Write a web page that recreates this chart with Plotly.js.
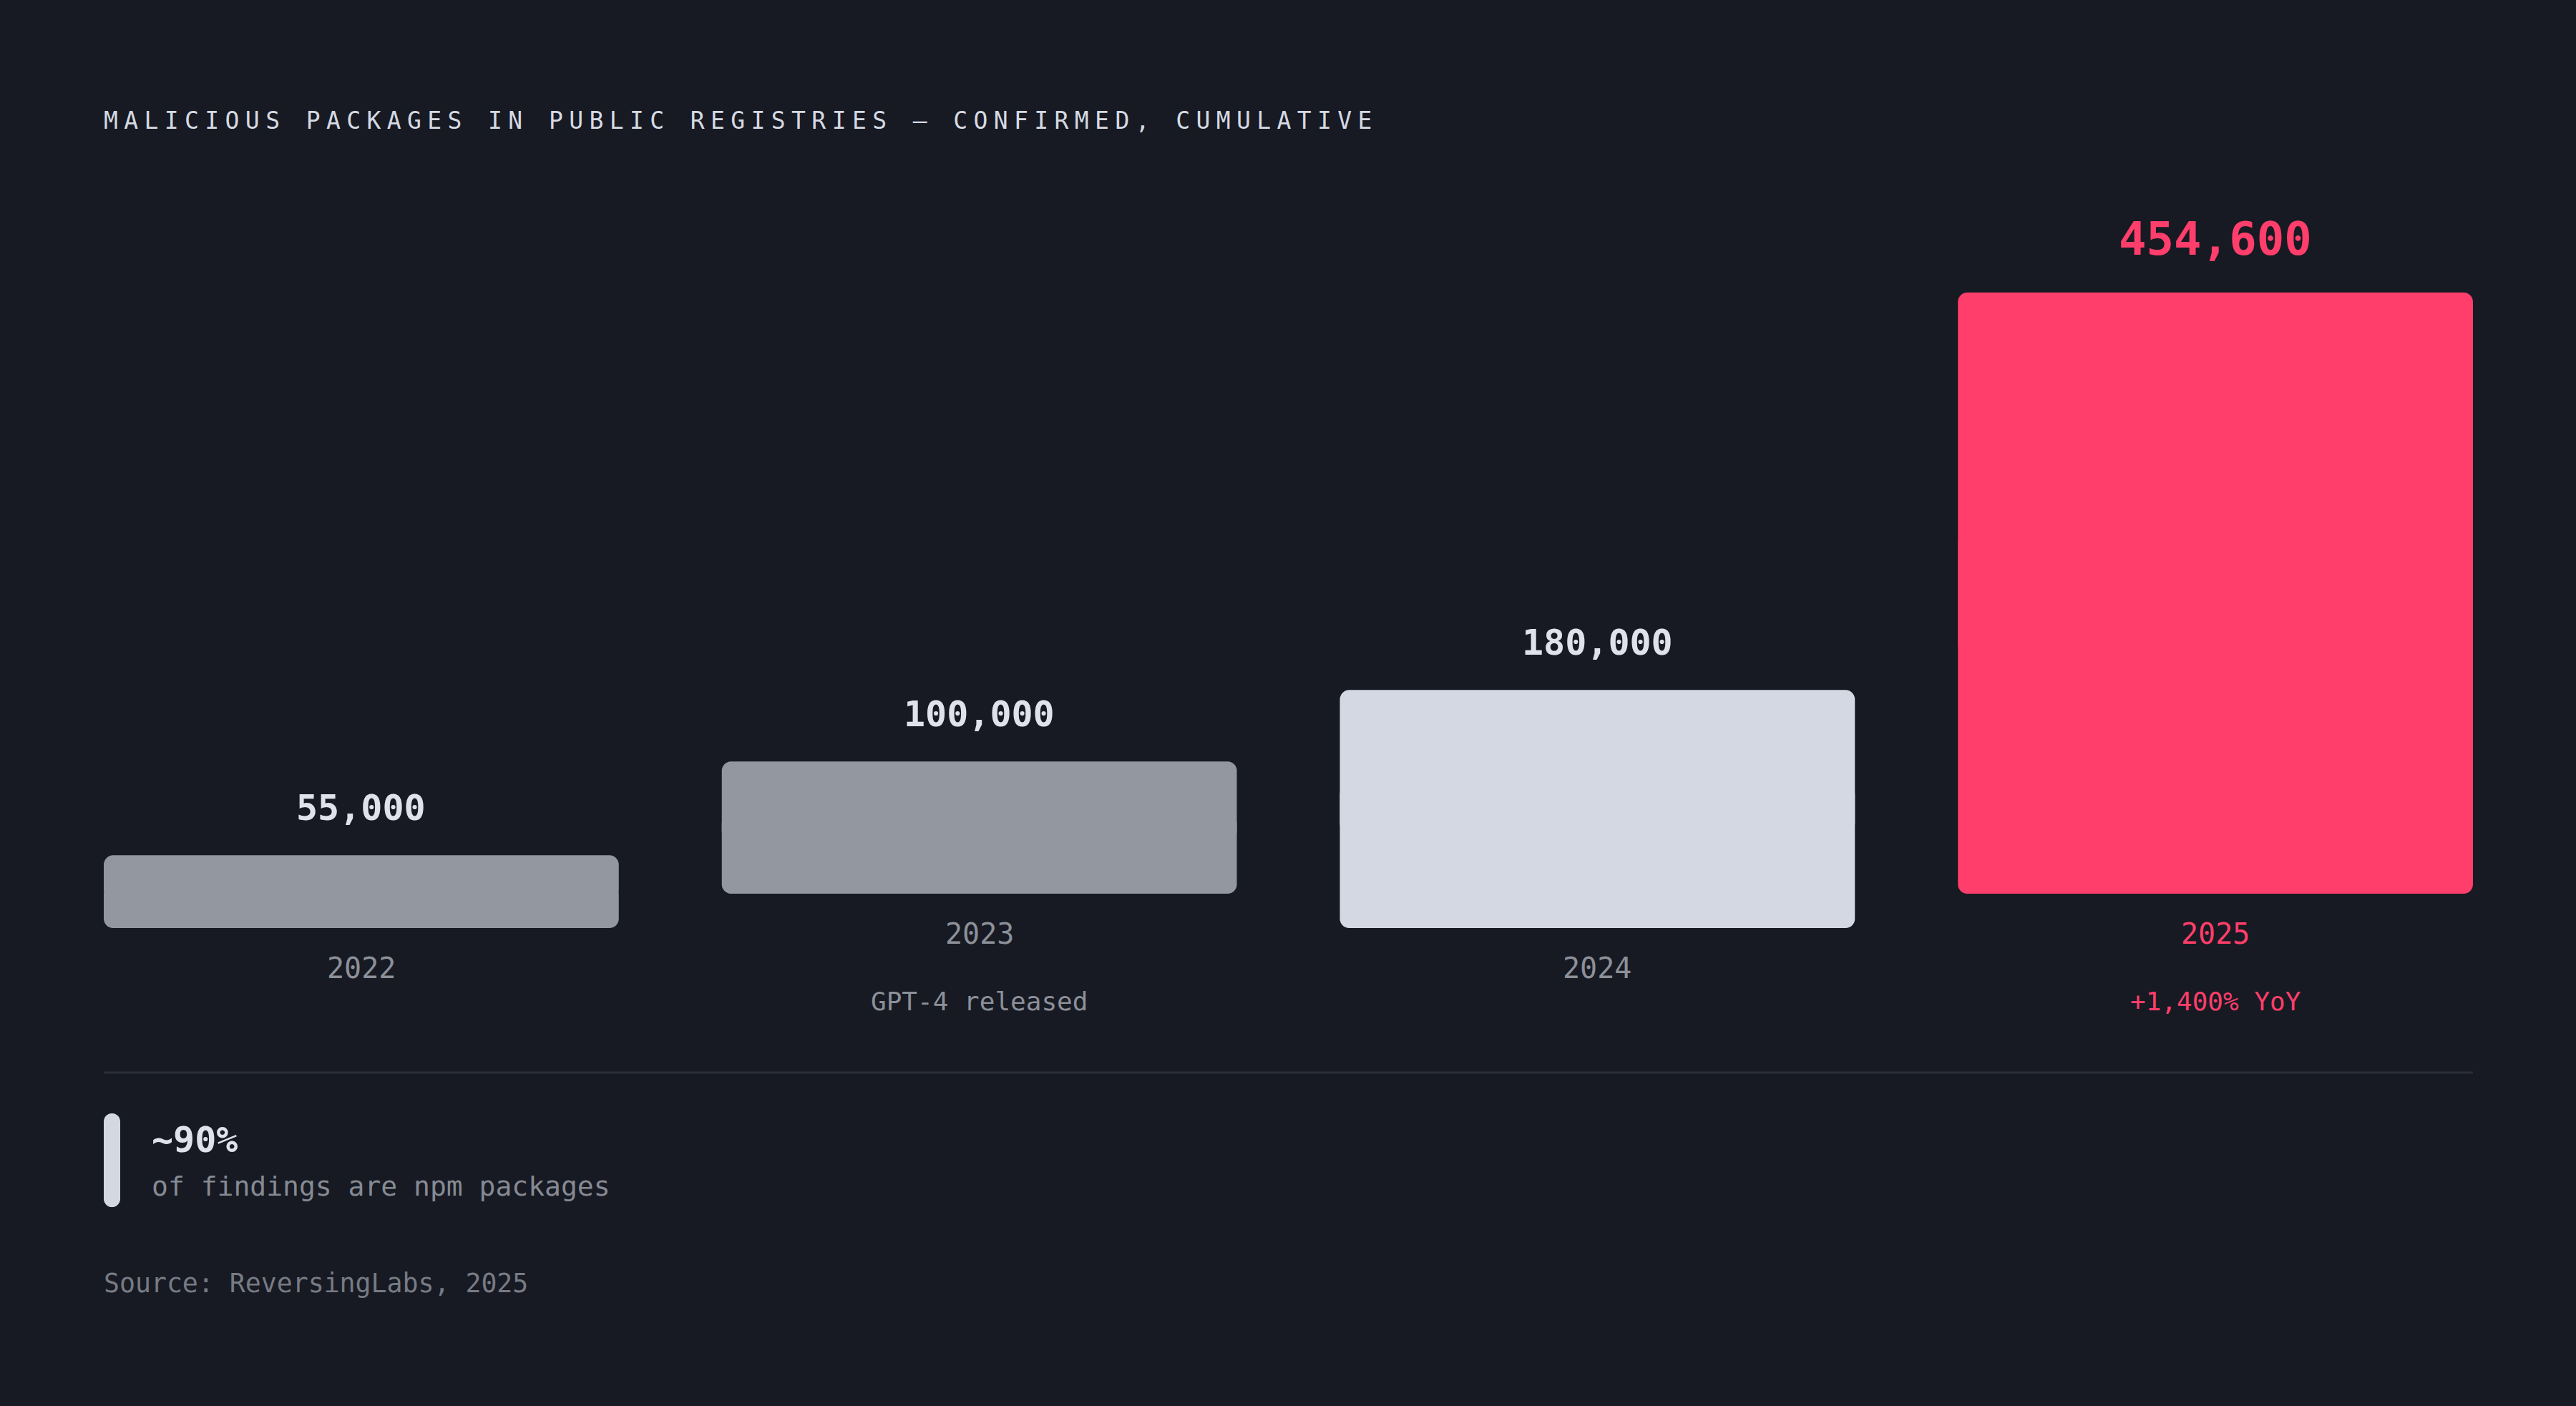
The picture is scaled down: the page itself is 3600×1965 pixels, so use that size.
<!DOCTYPE html>
<html>
<head>
<meta charset="utf-8">
<script src="https://cdn.plot.ly/plotly-3.0.1.min.js"></script>
<style>
  html, body { margin: 0; padding: 0; background: #171a23; }
  #myDiv { width: 3600px; height: 1965px; }
  /* spaced-out caps for the kicker title */
  .gtitle { letter-spacing: 8.4px; }
</style>
</head>
<body>
<div id="myDiv"></div>
<script>
// data
var years = ['2022', '2023', '2024', '2025'];
var counts = [55000, 100000, 180000, 454600];
var valueLabels = ['55,000', '100,000', '180,000', '454,600'];
var notes = ['', 'GPT-4 released', '', '+1,400% YoY'];
var staggered = [false, true, false, true];   // 2023 and 2025 sit a step higher

var barColors = ['#93979f', '#93979f', '#d4d8e2', '#ff3e6b'];
var labelColors = ['#dfe2ea', '#dfe2ea', '#dfe2ea', '#ff3e6b'];
var yearColors = ['#8c9099', '#8c9099', '#8c9099', '#ff3e6b'];

var STEP = 26000;   // lift of the staggered bars, in y units
var MONO = '"DejaVu Sans Mono", "Liberation Mono", monospace';

var xs = [0, 1, 2, 3];
var bases = staggered.map(function (s) { return s ? STEP : 0; });

// each bar = two overlapping halves so all four corners get rounded
var topY = [], topBase = [], lowY = [], lowBase = [];
for (var i = 0; i < counts.length; i++) {
  topBase.push(bases[i] + counts[i] * 0.4);
  topY.push(counts[i] * 0.6);
  lowBase.push(bases[i] + counts[i] * 0.6);
  lowY.push(-counts[i] * 0.6);
}

var data = [{
  type: 'bar',
  x: xs,
  y: topY,
  base: topBase,
  width: 0.8333,
  opacity: 1,
  marker: { color: barColors, opacity: 1, cornerradius: 13, line: { width: 0 } },
  hoverinfo: 'skip'
}, {
  type: 'bar',
  x: xs,
  y: lowY,
  base: lowBase,
  width: 0.8333,
  opacity: 1,
  marker: { color: barColors, opacity: 1, cornerradius: 13, line: { width: 0 } },
  hoverinfo: 'skip'
}];

var annotations = [];
for (var j = 0; j < years.length; j++) {
  var big = j === years.length - 1;
  annotations.push({
    x: xs[j], y: bases[j] + counts[j], xref: 'x', yref: 'y',
    text: '<b>' + valueLabels[j] + '</b>',
    showarrow: false, xanchor: 'center', yanchor: 'bottom',
    yshift: big ? 36 : 35,
    font: { family: MONO, size: big ? 64 : 50, color: labelColors[j] }
  });
  annotations.push({
    x: xs[j], y: bases[j], xref: 'x', yref: 'y',
    text: years[j],
    showarrow: false, xanchor: 'center', yanchor: 'top',
    yshift: -31,
    font: { family: MONO, size: 40, color: yearColors[j] }
  });
  if (notes[j]) {
    annotations.push({
      x: xs[j], y: bases[j], xref: 'x', yref: 'y',
      text: notes[j],
      showarrow: false, xanchor: 'center', yanchor: 'top',
      yshift: -128,
      font: { family: MONO, size: 36, color: yearColors[j] }
    });
  }
}

// callout under the divider
annotations.push({
  x: 0.0196, y: -0.3205, xref: 'paper', yref: 'paper',
  text: '<b>~90%</b>', showarrow: false, xanchor: 'left', yanchor: 'middle',
  font: { family: MONO, size: 50, color: '#dfe2ea' }
});
annotations.push({
  x: 0.0196, y: -0.3905, xref: 'paper', yref: 'paper',
  text: 'of findings are npm packages', showarrow: false, xanchor: 'left', yanchor: 'middle',
  font: { family: MONO, size: 38, color: '#868a93' }
});
annotations.push({
  x: -0.0005, y: -0.5370, xref: 'paper', yref: 'paper',
  text: 'Source: ReversingLabs, 2025', showarrow: false, xanchor: 'left', yanchor: 'middle',
  font: { family: MONO, size: 36.5, color: '#777b84' }
});

var pillW = 0.00695, capH = 0.0249;
var shapes = [{
  type: 'line', xref: 'paper', yref: 'paper',
  x0: 0, x1: 1, y0: -0.2186, y1: -0.2186,
  line: { color: '#2a2e38', width: 3 }
}, {
  type: 'rect', xref: 'paper', yref: 'paper',
  x0: 0, x1: pillW, y0: -0.2803 - capH / 2, y1: -0.4221 + capH / 2,
  fillcolor: '#d4d8e2', line: { width: 0 }
}, {
  type: 'circle', xref: 'paper', yref: 'paper',
  x0: 0, x1: pillW, y0: -0.2803, y1: -0.2803 - capH,
  fillcolor: '#d4d8e2', line: { width: 0 }
}, {
  type: 'circle', xref: 'paper', yref: 'paper',
  x0: 0, x1: pillW, y0: -0.4221, y1: -0.4221 + capH,
  fillcolor: '#d4d8e2', line: { width: 0 }
}];

var layout = {
  width: 3600,
  height: 1965,
  paper_bgcolor: '#171a23',
  plot_bgcolor: '#171a23',
  margin: { l: 145, r: 144, t: 373, b: 668, pad: 0 },
  showlegend: false,
  barmode: 'overlay',
  title: {
    text: 'MALICIOUS PACKAGES IN PUBLIC REGISTRIES — CONFIRMED, CUMULATIVE',
    xref: 'container', yref: 'container',
    x: 145 / 3600, xanchor: 'left',
    y: 1 - 168 / 1965, yanchor: 'middle',
    font: { family: MONO, size: 33, color: '#d5d9e2' }
  },
  xaxis: {
    range: [-0.41667, 3.41667],
    visible: false, fixedrange: true
  },
  yaxis: {
    range: [0, 500000],
    visible: false, fixedrange: true
  },
  annotations: annotations,
  shapes: shapes
};

Plotly.newPlot('myDiv', data, layout, { displayModeBar: false, staticPlot: true });
</script>
</body>
</html>
